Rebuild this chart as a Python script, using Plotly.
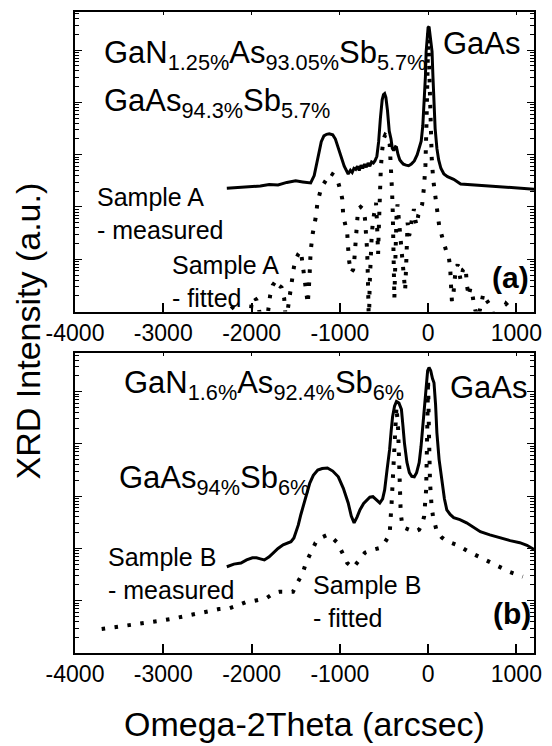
import plotly.graph_objects as go

FONT = "Liberation Sans, Arial, Helvetica, sans-serif"

# ---------------- data (x in arcsec, log10 of intensity in a.u.) ----------------
x_tickvals = [-4000, -3000, -2000, -1000, 0, 1000]
x_ticktext = ["-4000", "-3000", "-2000", "-1000", "0", "1000"]
X_RANGE = [-4000, 1200]
Y_LOG_RANGE = [0, 5.73]

sample_a_measured = [
    (-2280, 2.36), (-2200, 2.37), (-2100, 2.37), (-2000, 2.39), (-1900, 2.40), (-1800, 2.43),
    (-1700, 2.42), (-1600, 2.47), (-1500, 2.50), (-1420, 2.48), (-1330, 2.46), (-1290, 2.60),
    (-1250, 2.95), (-1210, 3.25), (-1180, 3.36), (-1150, 3.39), (-1120, 3.40), (-1080, 3.38),
    (-1050, 3.30), (-1020, 3.15), (-990, 2.98), (-950, 2.78), (-905, 2.63), (-880, 2.70),
    (-860, 2.66), (-840, 2.74), (-820, 2.72), (-800, 2.78), (-780, 2.70), (-760, 2.80),
    (-740, 2.74), (-720, 2.82), (-700, 2.76), (-680, 2.84), (-660, 2.78), (-640, 2.86),
    (-620, 2.84), (-603, 2.88), (-580, 2.97), (-560, 3.25), (-540, 3.70), (-520, 4.05),
    (-505, 4.15), (-492, 4.17), (-478, 4.10), (-460, 3.85), (-440, 3.45), (-420, 3.30),
    (-405, 3.12), (-390, 3.08), (-370, 3.15), (-358, 3.14), (-340, 3.00), (-320, 2.90),
    (-302, 2.86), (-280, 2.82), (-250, 2.80), (-220, 2.79), (-190, 2.82), (-156, 2.88),
    (-123, 3.00), (-100, 3.12), (-78, 3.26), (-60, 3.55), (-45, 4.00), (-30, 4.50),
    (-22, 4.97), (-10, 5.30), (0, 5.43), (11, 5.45), (22, 5.30), (35, 5.10), (45, 4.97),
    (55, 4.50), (67, 4.00), (80, 3.50), (100, 3.12), (120, 2.90), (145, 2.74), (179, 2.63),
    (220, 2.58), (290, 2.53), (369, 2.44), (450, 2.43), (550, 2.42), (650, 2.41),
    (740, 2.40), (850, 2.38), (950, 2.37), (1050, 2.36), (1200, 2.34),
]

sample_a_fitted = [
    (-2230, 0.05), (-2190, 0.12), (-2120, -0.30), (-2020, -0.20), (-2000, 0.15), (-1970, 0.28),
    (-1944, 0.22), (-1920, 0.08), (-1890, -0.20), (-1820, -0.10), (-1790, 0.30), (-1760, 0.50),
    (-1720, 0.60), (-1690, 0.50), (-1660, 0.46), (-1630, 0.25), (-1610, -0.20), (-1570, 0.30),
    (-1540, 0.65), (-1520, 0.85), (-1497, 1.00), (-1470, 1.10), (-1441, 1.16), (-1425, 0.95),
    (-1408, 0.60), (-1385, 0.30), (-1363, 0.15), (-1345, 0.60), (-1330, 1.16), (-1307, 1.49),
    (-1274, 1.79), (-1251, 2.11), (-1220, 2.30), (-1184, 2.44), (-1140, 2.58), (-1106, 2.65),
    (-1060, 2.60), (-1017, 2.46), (-990, 2.30), (-972, 2.15), (-961, 1.83), (-940, 1.65),
    (-916, 1.50), (-905, 1.20), (-893, 0.95), (-870, 0.75), (-849, 0.80), (-835, 1.00),
    (-827, 1.25), (-815, 1.50), (-804, 1.73), (-793, 1.96), (-765, 2.00), (-737, 1.96),
    (-715, 1.78), (-700, 1.45), (-690, 1.16), (-682, 0.65), (-676, 0.10), (-670, -0.30),
    (-662, 0.50), (-652, 1.00), (-640, 1.40), (-625, 1.73), (-605, 1.95), (-590, 2.08),
    (-580, 1.75), (-572, 1.35), (-566, 1.10), (-560, 1.50), (-553, 2.00), (-545, 2.40),
    (-535, 2.75), (-522, 3.05), (-505, 3.30), (-485, 3.38), (-460, 3.35), (-435, 3.20),
    (-418, 2.80), (-408, 2.30), (-400, 1.90), (-394, 1.40), (-390, 0.90), (-386, 0.45),
    (-382, 0.25), (-375, 0.70), (-368, 1.30), (-358, 1.80), (-346, 2.05), (-335, 1.85),
    (-320, 1.50), (-302, 1.20), (-285, 0.95), (-270, 0.70), (-260, 0.40), (-250, 0.80),
    (-242, 1.30), (-232, 1.70), (-215, 1.45), (-200, 1.55), (-185, 1.75), (-160, 1.96),
    (-145, 1.75), (-130, 1.65), (-110, 1.85), (-85, 2.00), (-67, 2.05), (-45, 2.40),
    (-30, 2.80), (-18, 3.60), (-8, 4.60), (3, 5.35), (14, 4.60), (25, 3.60), (42, 2.90),
    (60, 2.50), (76, 2.25), (100, 1.92), (125, 1.65), (156, 1.45), (185, 1.30), (205, 1.16),
    (230, 1.10), (250, 0.85), (260, 0.50), (270, 0.20), (285, 0.30), (300, 0.65), (313, 0.82),
    (335, 0.90), (369, 0.60), (395, 0.80), (425, 0.85), (440, 0.50), (460, 0.30), (480, 0.45),
    (500, 0.35), (514, 0.20), (536, 0.02), (570, -0.10), (600, 0.10), (626, 0.34), (650, 0.25),
    (682, 0.15), (710, 0.10), (740, -0.05), (771, 0.00), (800, -0.10), (840, 0.00),
    (883, 0.15), (920, 0.08),
]

sample_b_measured = [
    (-2280, 1.65), (-2200, 1.70), (-2120, 1.72), (-2056, 1.78), (-1990, 1.82), (-1944, 1.82),
    (-1900, 1.80), (-1855, 1.78), (-1800, 1.84), (-1754, 1.92), (-1700, 2.00), (-1642, 2.07),
    (-1600, 2.10), (-1553, 2.13), (-1520, 2.20), (-1497, 2.30), (-1470, 2.45), (-1441, 2.65),
    (-1408, 2.85), (-1385, 3.00), (-1340, 3.25), (-1300, 3.40), (-1250, 3.50), (-1200, 3.53),
    (-1140, 3.54), (-1080, 3.48), (-1017, 3.37), (-960, 3.15), (-905, 2.87), (-870, 2.62),
    (-838, 2.49), (-805, 2.60), (-771, 2.74), (-730, 2.86), (-693, 2.93), (-660, 2.98),
    (-625, 2.99), (-590, 2.93), (-547, 2.87), (-515, 2.95), (-492, 3.12), (-465, 3.50),
    (-436, 3.89), (-418, 4.25), (-402, 4.52), (-380, 4.72), (-358, 4.81), (-330, 4.78),
    (-302, 4.66), (-285, 4.35), (-268, 4.02), (-240, 3.65), (-212, 3.45), (-185, 3.38),
    (-156, 3.37), (-130, 3.45), (-101, 3.64), (-80, 3.95), (-67, 4.21), (-45, 4.70),
    (-22, 5.17), (-5, 5.40), (11, 5.46), (30, 5.40), (50, 5.25), (67, 5.17), (85, 4.75),
    (100, 4.21), (125, 3.70), (156, 3.26), (185, 2.95), (212, 2.74), (250, 2.65), (290, 2.59),
    (360, 2.55), (436, 2.49), (520, 2.40), (592, 2.32), (700, 2.26), (816, 2.20), (930, 2.15),
    (1039, 2.11), (1120, 2.06), (1200, 1.98),
]

sample_b_fitted = [
    (-3698, 0.46), (-3531, 0.50), (-3374, 0.52), (-3196, 0.57), (-3061, 0.61), (-2916, 0.65),
    (-2760, 0.71), (-2637, 0.75), (-2480, 0.80), (-2369, 0.84), (-2246, 0.86), (-2145, 0.92),
    (-2056, 0.98), (-1966, 1.00), (-1832, 1.05), (-1743, 1.15), (-1687, 1.17), (-1631, 1.17),
    (-1531, 1.17), (-1475, 1.36), (-1419, 1.53), (-1385, 1.72), (-1330, 1.92), (-1274, 2.11),
    (-1218, 2.20), (-1140, 2.26), (-1084, 2.20), (-1028, 2.11), (-972, 1.92), (-916, 1.72),
    (-849, 1.63), (-793, 1.74), (-715, 1.92), (-637, 1.97), (-547, 2.01), (-492, 2.11),
    (-436, 2.26), (-413, 2.87), (-395, 3.60), (-375, 4.40), (-358, 4.71), (-340, 4.30),
    (-330, 3.60), (-324, 3.06), (-310, 2.68), (-290, 2.41), (-250, 2.38), (-212, 2.36),
    (-156, 2.32), (-101, 2.36), (-70, 2.45), (-45, 2.61), (-22, 3.12), (-10, 4.20), (0, 5.23),
    (10, 4.20), (22, 3.26), (40, 2.80), (56, 2.61), (100, 2.32), (150, 2.22), (201, 2.15),
    (324, 2.07), (458, 1.94), (603, 1.82), (760, 1.69), (927, 1.55), (1073, 1.46),
]


def to_xy(pairs):
    return [p[0] for p in pairs], [10 ** p[1] for p in pairs]


fig = go.Figure()

SOLID = dict(color="black", width=3)
DOTTED = dict(color="black", width=4, dash="3.5px,9.5px")

for pairs, line, xa, ya in [
    (sample_a_measured, SOLID, "x", "y"),
    (sample_a_fitted, DOTTED, "x", "y"),
    (sample_b_measured, SOLID, "x2", "y2"),
    (sample_b_fitted, DOTTED, "x2", "y2"),
]:
    xs, ys = to_xy(pairs)
    fig.add_trace(go.Scatter(x=xs, y=ys, mode="lines", line=line, xaxis=xa, yaxis=ya,
                             showlegend=False, hoverinfo="skip", cliponaxis=True))

# empty traces so the top tick-axes get drawn
fig.add_trace(go.Scatter(x=[None], y=[None], xaxis="x3", yaxis="y", showlegend=False))
fig.add_trace(go.Scatter(x=[None], y=[None], xaxis="x4", yaxis="y2", showlegend=False))

TOP_DOMAIN = [0.5327, 1.0]
BOT_DOMAIN = [0.0, 0.4673]


def xaxis(anchor):
    return dict(
        anchor=anchor, domain=[0, 1], range=X_RANGE, tickmode="array",
        tickvals=x_tickvals, ticktext=x_ticktext, ticks="inside", ticklen=9,
        tickwidth=1.5, tickcolor="black", showline=True, linewidth=1.5,
        linecolor="black", mirror=True, showgrid=False, zeroline=False,
        tickfont=dict(family=FONT, size=23, color="black"),
    )


def topticks(overlay, anchor):
    return dict(
        overlaying=overlay, anchor=anchor, side="top", range=X_RANGE,
        tickmode="array", tickvals=x_tickvals, ticks="inside", ticklen=3,
        tickwidth=1, tickcolor="black", showticklabels=False, showline=False,
        showgrid=False, zeroline=False,
    )


def yaxis(anchor, domain):
    return dict(
        anchor=anchor, domain=domain, type="log", range=Y_LOG_RANGE, dtick=1,
        ticks="inside", ticklen=7, tickwidth=1.2, tickcolor="black",
        showticklabels=False, showline=True, linewidth=1.5, linecolor="black",
        mirror="ticks", showgrid=False, zeroline=False,
        minor=dict(ticks="inside", ticklen=4, tickwidth=1, tickcolor="black",
                   dtick="D1", showgrid=False),
    )


annotations = []


def note(text, x, ylog, xref, yref, size, xanchor="left", bold=False):
    annotations.append(dict(
        text=f"<b>{text}</b>" if bold else text, x=x, y=ylog, xref=xref, yref=yref,
        xanchor=xanchor, yanchor="middle", showarrow=False, align="left",
        font=dict(family=FONT, size=size, color="black"),
    ))


# top panel
note("GaN<sub>1.25%</sub>As<sub>93.05%</sub>Sb<sub>5.7%</sub>", -3699, 4.90, "x", "y", 31)
note("GaAs<sub>94.3%</sub>Sb<sub>5.7%</sub>", -3699, 3.98, "x", "y", 31)
note("GaAs", 142, 5.12, "x", "y", 31)
note("Sample A<br>- measured", -3777, 1.87, "x", "y", 25)
note("Sample A<br>- fitted", -2920, 0.57, "x", "y", 25)
note("(a)", 1165, 0.66, "x", "y", 30, xanchor="right", bold=True)
# bottom panel
note("GaN<sub>1.6%</sub>As<sub>92.4%</sub>Sb<sub>6%</sub>", -3466, 5.13, "x2", "y2", 31)
note("GaAs", 231, 5.07, "x2", "y2", 31)
note("GaAs<sub>94%</sub>Sb<sub>6%</sub>", -3521, 3.30, "x2", "y2", 31)
note("Sample B<br>- measured", -3644, 1.53, "x2", "y2", 25)
note("Sample B<br>- fitted", -1328, 0.99, "x2", "y2", 25)
note("(b)", 1185, 0.76, "x2", "y2", 30, xanchor="right", bold=True)

# axis titles
annotations.append(dict(text="Omega-2Theta (arcsec)", x=0.5, y=-0.111, xref="paper",
                        yref="paper", xanchor="center", yanchor="middle", showarrow=False,
                        font=dict(family=FONT, size=34, color="black")))
annotations.append(dict(text="XRD Intensity (a.u.)", x=-0.1028, y=0.503, xref="paper",
                        yref="paper", xanchor="center", yanchor="middle", showarrow=False,
                        textangle=-90, font=dict(family=FONT, size=34, color="black")))

fig.update_layout(
    width=552, height=746,
    margin=dict(l=75, r=10, t=11, b=93),
    paper_bgcolor="white", plot_bgcolor="white",
    xaxis=xaxis("y"), yaxis=yaxis("x", TOP_DOMAIN),
    xaxis2=xaxis("y2"), yaxis2=yaxis("x2", BOT_DOMAIN),
    xaxis3=topticks("x", "y"), xaxis4=topticks("x2", "y2"),
    annotations=annotations,
    showlegend=False,
)

fig.write_html("out.html")
